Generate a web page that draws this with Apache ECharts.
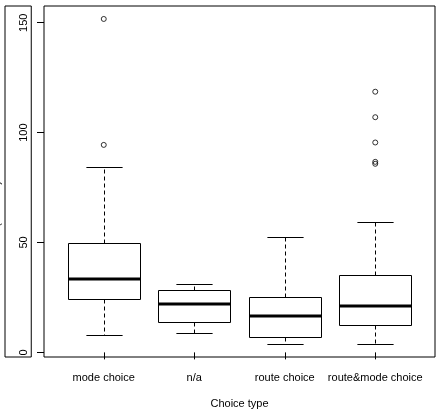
<!DOCTYPE html>
<html>
<head>
<meta charset="utf-8">
<script src="https://cdn.jsdelivr.net/npm/echarts@6/dist/echarts.min.js"></script>
<style>html,body{margin:0;padding:0;background:#fff}#c{width:445px;height:416px}</style>
</head>
<body>
<div id="c"></div>
<script>
var categories = ['mode choice', 'n/a', 'route choice', 'route&mode choice'];
var whiskerLow = [7.7, 8.8, 3.8, 4.0];
var q1 = [24.4, 13.8, 7.0, 12.4];
var median = [33.6, 22.1, 16.7, 21.2];
var q3 = [49.7, 28.2, 25.3, 35.0];
var whiskerHigh = [84.5, 30.9, 52.7, 59.5];
var outlierCat = [0, 0, 3, 3, 3, 3, 3];
var outlierVal = [151.7, 94.4, 118.6, 107.0, 95.5, 86.7, 85.8];
var yTicks = [0, 50, 100, 150];
var xTitle = 'Choice type';
var yTitle = '(minutes)';

var font = 'Liberation Sans, Arial, Helvetica, sans-serif';
var boxData = categories.map(function (c, i) {
  return [i, whiskerLow[i], q1[i], median[i], q3[i], whiskerHigh[i]];
});
var outData = outlierCat.map(function (c, i) { return [c, outlierVal[i]]; });

function renderBox(params, api) {
  var i = api.value(0);
  var band = api.size([1, 0])[0];
  var bw = band * 0.8;
  var cw = bw * 0.5;
  var pLo = api.coord([i, api.value(1)]);
  var pQ1 = api.coord([i, api.value(2)]);
  var pMed = api.coord([i, api.value(3)]);
  var pQ3 = api.coord([i, api.value(4)]);
  var pHi = api.coord([i, api.value(5)]);
  var x = Math.round(pMed[0]) + 0.5;
  var ln = function (x1, y1, x2, y2, w, dash) {
    return { type: 'line', shape: { x1: x1, y1: y1, x2: x2, y2: y2 },
      style: { stroke: '#000', lineWidth: w, lineDash: dash || null } };
  };
  var r = function (v) { return Math.round(v) + 0.5; };
  return { type: 'group', children: [
    ln(x, r(pQ3[1]), x, r(pHi[1]), 1, [4, 3]),
    ln(x, r(pQ1[1]), x, r(pLo[1]), 1, [4, 3]),
    ln(x - cw / 2, r(pHi[1]), x + cw / 2, r(pHi[1]), 1),
    ln(x - cw / 2, r(pLo[1]), x + cw / 2, r(pLo[1]), 1),
    { type: 'rect', shape: { x: Math.round(x - bw / 2) + 0.5, y: r(pQ3[1]), width: Math.round(bw), height: r(pQ1[1]) - r(pQ3[1]) },
      style: { fill: '#fff', stroke: '#000', lineWidth: 1 } },
    ln(Math.round(x - bw / 2) + 0.5, Math.round(pMed[1]), Math.round(x - bw / 2) + 0.5 + Math.round(bw), Math.round(pMed[1]), 3)
  ] };
}

var chart = echarts.init(document.getElementById('c'), null, { renderer: 'canvas' });
chart.setOption({
  animation: false,
  backgroundColor: '#fff',
  textStyle: { fontFamily: font },
  grid: [
    { left: 58.5, right: 24.5, top: 6, bottom: 59, show: false },
    { left: 44, right: 10, top: 6, bottom: 59, show: true, borderColor: '#000', borderWidth: 1, backgroundColor: 'transparent' },
    { left: -100, right: 440, top: 6, bottom: 59, show: true, borderColor: '#000', borderWidth: 1, backgroundColor: 'transparent' }
  ],
  xAxis: [
    { type: 'category', gridIndex: 0, data: categories, boundaryGap: true,
      axisLine: { show: false },
      axisTick: { show: true, alignWithLabel: true, length: 7, lineStyle: { color: '#000' } },
      axisLabel: { color: '#000', fontSize: 11, fontFamily: font, margin: 15, interval: 0 },
      splitLine: { show: false },
      name: xTitle, nameLocation: 'middle', nameGap: 41,
      nameTextStyle: { color: '#000', fontSize: 11, fontFamily: font } },
    { type: 'value', gridIndex: 1, show: false },
    { type: 'value', gridIndex: 2, show: false }
  ],
  yAxis: [
    { type: 'value', gridIndex: 0, min: -2.1, max: 157.6, offset: 14.5,
      axisLine: { show: false },
      axisTick: { show: true, length: 7, lineStyle: { color: '#000' }, customValues: yTicks },
      axisLabel: { color: '#000', fontSize: 11, fontFamily: font, rotate: 90, margin: 15, customValues: yTicks },
      splitLine: { show: false } },
    { type: 'value', gridIndex: 1, show: false },
    { type: 'value', gridIndex: 2, show: false }
  ],
  graphic: [
    { type: 'text', left: -9, top: 181, rotation: Math.PI / 2,
      style: { text: yTitle, fill: '#000', font: '11px ' + font, textAlign: 'center', textVerticalAlign: 'middle' } }
  ],
  series: [
    { type: 'custom', xAxisIndex: 0, yAxisIndex: 0, renderItem: renderBox, data: boxData, z: 2 },
    { type: 'scatter', xAxisIndex: 0, yAxisIndex: 0, data: outData, symbol: 'circle', symbolSize: 5,
      itemStyle: { color: 'transparent', borderColor: '#000', borderWidth: 1 }, z: 3 }
  ]
});
</script>
</body>
</html>
